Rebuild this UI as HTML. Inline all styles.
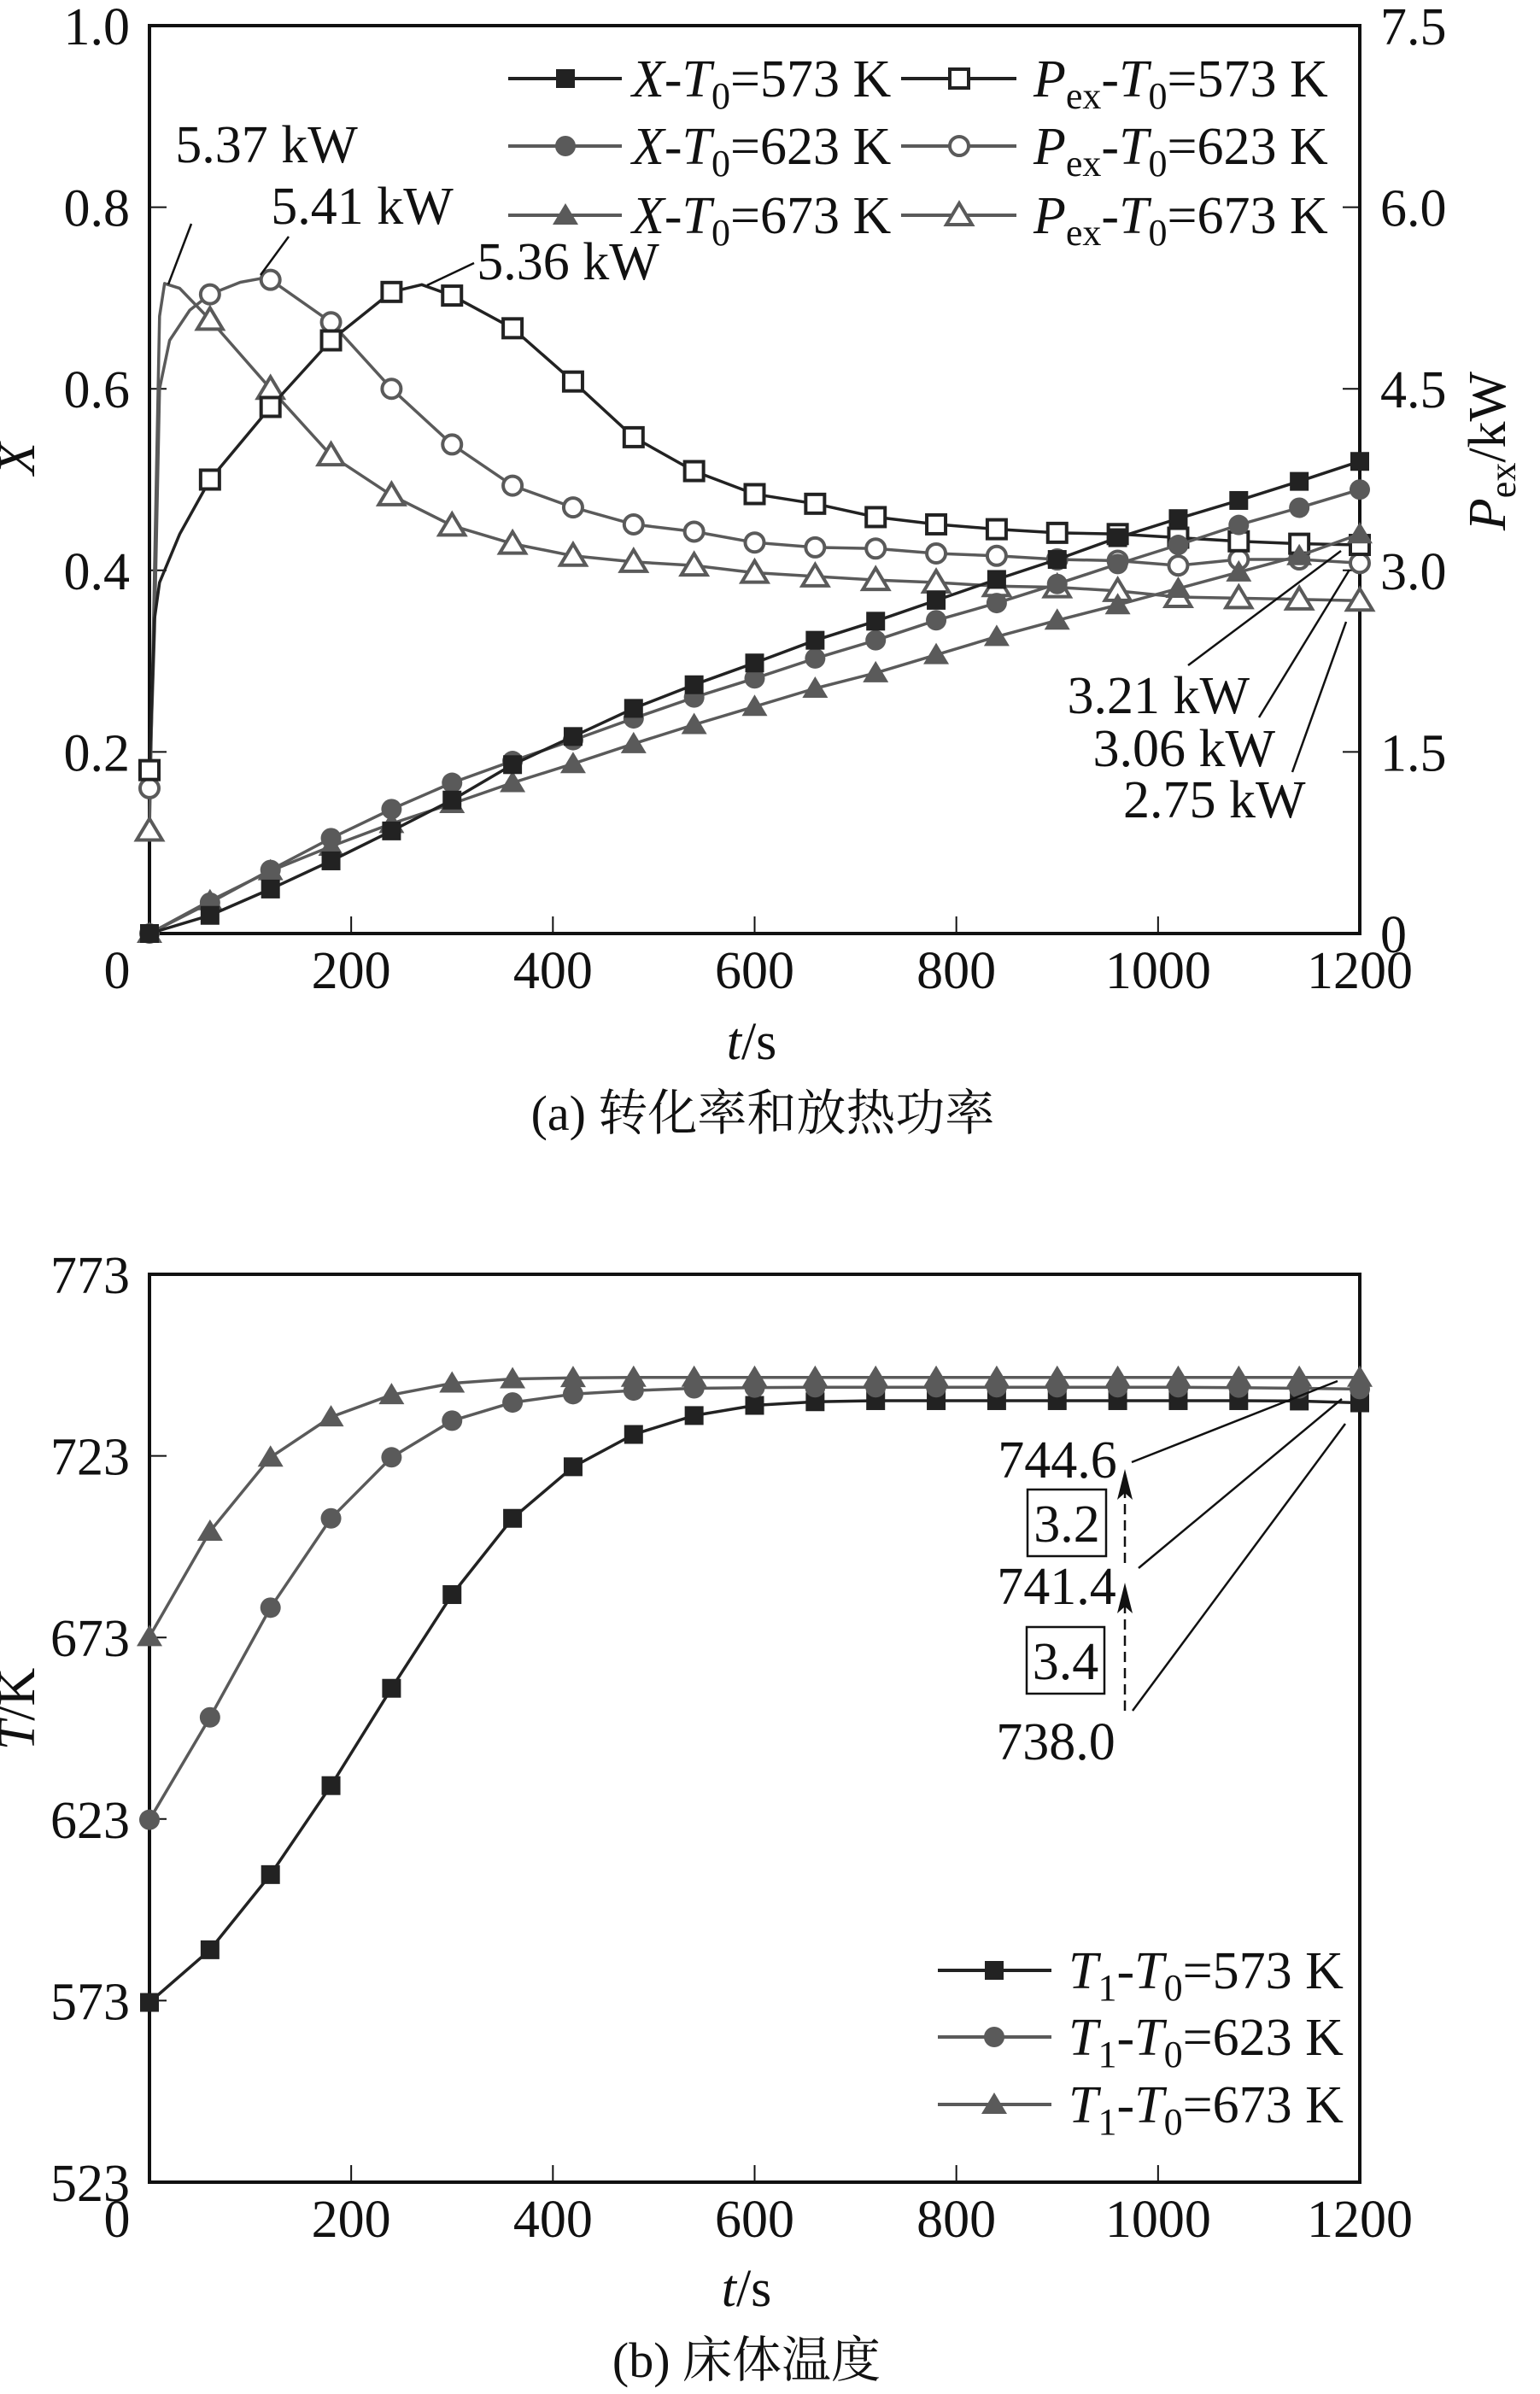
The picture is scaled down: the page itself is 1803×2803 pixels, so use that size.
<!DOCTYPE html>
<html><head><meta charset="utf-8"><style>
html,body{margin:0;padding:0;background:#fff;}
svg{display:block;font-family:"Liberation Serif","Noto Serif CJK SC","Noto Sans CJK SC",serif;}
</style></head><body>
<svg id="fig" width="1803" height="2803" viewBox="0 0 1803 2803" xmlns="http://www.w3.org/2000/svg"></svg>
<script>
// ---------- Chart (a) data ----------
const markerTimes = [0,60,120,180,240,300,360,420,480,540,600,660,720,780,840,900,960,1020,1080,1140,1200];
const xConv573 = [0,0.02,0.049,0.08,0.113,0.147,0.186,0.217,0.248,0.274,0.298,0.323,0.344,0.367,0.39,0.412,0.436,0.457,0.477,0.498,0.52];
const xConv623 = [0,0.034,0.07,0.105,0.137,0.166,0.19,0.213,0.237,0.26,0.281,0.303,0.323,0.345,0.364,0.385,0.407,0.428,0.45,0.469,0.489];
const xConv673 = [0,0.036,0.069,0.096,0.121,0.143,0.166,0.187,0.209,0.23,0.25,0.27,0.287,0.307,0.327,0.345,0.362,0.38,0.398,0.416,0.44];
const pTimes573 = [0,5,10,30,60,90,120,180,240,270,300,360,420,480,540,600,660,720,780,840,900,960,1020,1080,1140,1200];
const pPow573 = [1.35,2.6,2.9,3.3,3.75,4.05,4.35,4.9,5.3,5.36,5.27,5.0,4.56,4.1,3.82,3.63,3.55,3.44,3.38,3.34,3.31,3.3,3.27,3.24,3.22,3.21];
const pTimes623 = [0,5,10,20,40,60,90,110,120,180,240,300,360,420,480,540,600,660,720,780,840,900,960,1020,1080,1140,1200];
const pPow623 = [1.2,2.5,4.5,4.9,5.15,5.28,5.38,5.41,5.40,5.05,4.5,4.04,3.7,3.52,3.38,3.32,3.23,3.19,3.18,3.14,3.12,3.09,3.08,3.04,3.09,3.09,3.06];
const pTimes673 = [0,5,10,15,30,60,120,180,240,300,360,420,480,540,600,660,720,780,840,900,960,1020,1080,1140,1200];
const pPow673 = [0.85,3.0,5.1,5.37,5.33,5.07,4.5,3.95,3.62,3.37,3.22,3.12,3.07,3.04,2.98,2.95,2.92,2.9,2.87,2.86,2.83,2.78,2.77,2.76,2.75];
const xTicks = [0,200,400,600,800,1000,1200];
const xTickLabels = ["0","200","400","600","800","1000","1200"];
const convTicks = [0.2,0.4,0.6,0.8,1.0];
const convTickLabels = ["0.2","0.4","0.6","0.8","1.0"];
const powTicks = [0,1.5,3.0,4.5,6.0,7.5];
const powTickLabels = ["0","1.5","3.0","4.5","6.0","7.5"];
// ---------- Chart (b) data ----------
const temp573 = [572.5,587,607.7,632.2,659,684.8,705.8,720,728.9,734.1,736.9,737.9,738.2,738.2,738.2,738.2,738.2,738.2,738.2,738.1,737.6];
const temp623 = [622.8,651,681.2,705.8,722.6,732.7,737.7,740,741,741.6,741.8,741.9,741.9,741.9,741.9,741.9,741.9,741.9,741.8,741.6,741.4];
const temp673 = [673.2,702.2,722.6,733.7,739.8,743,744.2,744.5,744.6,744.6,744.6,744.6,744.6,744.6,744.6,744.6,744.6,744.6,744.6,744.6,744.6];
const tempTicks = [523,573,623,673,723,773];
const tempTickLabels = ["523","573","623","673","723","773"];

const NS="http://www.w3.org/2000/svg";
const svg=document.getElementById('fig');
function mk(tag,attrs,parent){const e=document.createElementNS(NS,tag);for(const k in attrs)e.setAttribute(k,attrs[k]);(parent||svg).appendChild(e);return e;}
const BLK="#222", GRY="#5a5a5a";
const L=175,R=1592,W=R-L;
const sx=t=>L+t/1200*W;
const aT=30,aB=1093,aH=aB-aT;
const syA=v=>aB-v*aH;
const syP=p=>aB-p/7.5*aH;
const bT=1492,bB=2555,bH=bB-bT;
const syT=v=>bB-(v-523)/250*bH;

function marker(g,type,x,y,color,fill){
  let e;
  if(type==='sq'){e=mk('rect',{x:x-11,y:y-11,width:22,height:22,fill:fill?color:'#fff',stroke:color,'stroke-width':fill?0:4},g);}
  else if(type==='ci'){e=mk('circle',{cx:x,cy:y,r:fill?12:11,fill:fill?color:'#fff',stroke:color,'stroke-width':fill?0:4},g);}
  else {e=mk('polygon',{points:`${x},${y-14} ${x-15},${y+11} ${x+15},${y+11}`,fill:fill?color:'#fff',stroke:color,'stroke-width':fill?0:4,'stroke-linejoin':'miter'},g);}
  return e;
}
function series(name,times,vals,sy,type,color,fill,mTimes){
  const g=mk('g',{});
  
  
  const pts=times.map((t,i)=>sx(t).toFixed(1)+','+sy(vals[i]).toFixed(1)).join(' ');
  const pl=mk('polyline',{points:pts,fill:'none',stroke:color,'stroke-width':3.5,'stroke-linejoin':'round'},g);
  
  
  times.forEach((t,i)=>{
    if(mTimes.indexOf(t)<0)return;
    const m=marker(g,type,sx(t),sy(vals[i]),color,fill);
    
    
  });
}
function text(str,x,y,size,anchor,name,extra){
  const t=mk('text',Object.assign({x:x,y:y,'font-size':size,'text-anchor':anchor||'middle',fill:'#111'},extra||{}));
  t.innerHTML=str;
  
  
  return t;
}
function frame(top,bot,name){
  const r=mk('rect',{x:L,y:top,width:W,height:bot-top,fill:'none',stroke:'#111','stroke-width':4});
  
  
  xTicks.forEach((t,i)=>{
    const tk=mk('line',{x1:sx(t),x2:sx(t),y1:bot,y2:bot-20,stroke:'#111','stroke-width':2});
    
    
    const x=i===0?137:sx(t);
    text(xTickLabels[i],x,bot+64,62,'middle','x-tick-label');
  });
}
// ----- chart a -----
frame(aT,aB,'plot-area-a');
convTicks.forEach((v,i)=>{
  const tk=mk('line',{x1:L,x2:L+20,y1:syA(v),y2:syA(v),stroke:'#111','stroke-width':2});
  
  
  text(convTickLabels[i],152,syA(v)+22,62,'end','left-tick-label');
});
powTicks.forEach((v,i)=>{
  const tk=mk('line',{x1:R,x2:R-20,y1:syP(v),y2:syP(v),stroke:'#111','stroke-width':2});
  
  
  text(powTickLabels[i],1616,syP(v)+22,62,'start','right-tick-label');
});
text('X',58,555,62,'middle','y-axis-title-left',{'font-style':'italic',transform:'rotate(-90 40 555)'});
text('<tspan font-style="italic">P</tspan><tspan font-size="44" dy="12">ex</tspan><tspan dy="-12">/kW</tspan>',1780,546,62,'middle','y-axis-title-right',{transform:'rotate(-90 1762 546)'});
text('<tspan font-style="italic">t</tspan>/s',880,1240,62,'middle','x-axis-title-a');
text('(a) 转化率和放热功率',893,1323,58,'middle','caption-a');

series('p-series-673',pTimes673,pPow673,syP,'tr',GRY,false,markerTimes);
series('p-series-623',pTimes623,pPow623,syP,'ci',GRY,false,markerTimes);
series('p-series-573',pTimes573,pPow573,syP,'sq',BLK,false,markerTimes);
series('x-series-673',markerTimes,xConv673,syA,'tr',GRY,true,markerTimes);
series('x-series-623',markerTimes,xConv623,syA,'ci',GRY,true,markerTimes);
series('x-series-573',markerTimes,xConv573,syA,'sq',BLK,true,markerTimes);

const legRows=[92,171,252];
const legTypes=['sq','ci','tr'];
const legColors=[BLK,GRY,GRY];
const legTemps=['573','623','673'];
legRows.forEach((y,i)=>{
  const g=mk('g',{});
  
  
  mk('line',{x1:595,x2:728,y1:y,y2:y,stroke:legColors[i],'stroke-width':4},g);
  marker(g,legTypes[i],662,y,legColors[i],true);
  const t=mk('text',{x:740,y:y+21,'font-size':62,fill:'#111'},g);
  t.innerHTML='<tspan font-style="italic">X</tspan>-<tspan font-style="italic">T</tspan><tspan font-size="44" dy="14">0</tspan><tspan dy="-14">='+legTemps[i]+' K</tspan>';
  const g2=mk('g',{});
  
  
  mk('line',{x1:1055,x2:1190,y1:y,y2:y,stroke:legColors[i],'stroke-width':4},g2);
  marker(g2,legTypes[i],1123,y,legColors[i],false);
  const t2=mk('text',{x:1210,y:y+21,'font-size':62,fill:'#111'},g2);
  t2.innerHTML='<tspan font-style="italic">P</tspan><tspan font-size="44" dy="14">ex</tspan><tspan dy="-14">-</tspan><tspan font-style="italic">T</tspan><tspan font-size="44" dy="14">0</tspan><tspan dy="-14">='+legTemps[i]+' K</tspan>';
});
function lead(x1,y1,x2,y2,name,w){const l=mk('line',{x1,y1,x2,y2,stroke:'#111','stroke-width':w||2.5});}
text('5.37 kW',312,190,62,'middle','peak-label-673');
lead(224,262,197,333,'peak-leader-673');
text('5.41 kW',424,262,62,'middle','peak-label-623');
lead(338,277,305,322,'peak-leader-623');
text('5.36 kW',665,327,62,'middle','peak-label-573');
lead(555,308,500,334,'peak-leader-573');
text('3.21 kW',1463,835,62,'end','end-label-573');
lead(1391,779,1570,645,'end-leader-573');
text('3.06 kW',1493,897,62,'end','end-label-623');
lead(1474,840,1580,667,'end-leader-623');
text('2.75 kW',1315,957,62,'start','end-label-673');
lead(1513,904,1576,728,'end-leader-673');

// ----- chart b -----
frame(bT,bB,'plot-area-b');
tempTicks.forEach((v,i)=>{
  const tk=mk('line',{x1:L,x2:L+20,y1:syT(v),y2:syT(v),stroke:'#111','stroke-width':2});
  
  
  text(tempTickLabels[i],152,syT(v)+22,62,'end','temp-tick-label');
});
text('<tspan font-style="italic">T</tspan>/K',58,2019,62,'middle','y-axis-title-b',{transform:'rotate(-90 40 2019)'});
text('<tspan font-style="italic">t</tspan>/s',874,2700,62,'middle','x-axis-title-b');
text('(b) 床体温度',874,2783,58,'middle','caption-b');
series('t-series-573',markerTimes,temp573,syT,'sq',BLK,true,markerTimes);
series('t-series-623',markerTimes,temp623,syT,'ci',GRY,true,markerTimes);
series('t-series-673',markerTimes,temp673,syT,'tr',GRY,true,markerTimes);
const legRowsB=[2307,2385,2464];
legRowsB.forEach((y,i)=>{
  const g=mk('g',{});
  
  
  mk('line',{x1:1098,x2:1231,y1:y,y2:y,stroke:legColors[i],'stroke-width':4},g);
  marker(g,legTypes[i],1164,y,legColors[i],true);
  const t=mk('text',{x:1251,y:y+21,'font-size':62,fill:'#111'},g);
  t.innerHTML='<tspan font-style="italic">T</tspan><tspan font-size="44" dy="14">1</tspan><tspan dy="-14">-</tspan><tspan font-style="italic">T</tspan><tspan font-size="44" dy="14">0</tspan><tspan dy="-14">='+legTemps[i]+' K</tspan>';
});
text('744.6',1238,1730,62,'middle','final-temp-673');
text('741.4',1237,1878,62,'middle','final-temp-623');
text('738.0',1236,2060,62,'middle','final-temp-573');
function box(x,y,w,h,s,name){const g=mk('g',{});mk('rect',{x,y,width:w,height:h,fill:'none',stroke:'#111','stroke-width':2.5},g);const t=mk('text',{x:x+w/2,y:y+h/2+22,'font-size':62,'text-anchor':'middle',fill:'#111'},g);t.textContent=s;}
box(1203,1744,92,78,'3.2','diff-box-upper');
box(1202,1905,91,78,'3.4','diff-box-lower');
function arrow(y1,y2,name){const g=mk('g',{});mk('line',{x1:1317,x2:1317,y1:y1,y2:y2+20,stroke:'#111','stroke-width':2.5,'stroke-dasharray':'12 7'},g);mk('polygon',{points:`1317,${y2} 1308,${y2+36} 1317,${y2+28} 1326,${y2+36}`,fill:'#111'},g);}
arrow(1830,1720,'diff-arrow-upper');
arrow(2003,1853,'diff-arrow-lower');
lead(1325,1712,1566,1617,'temp-leader-673');
lead(1333,1836,1571,1638,'temp-leader-623');
lead(1326,2003,1575,1667,'temp-leader-573');
</script>
</body></html>
